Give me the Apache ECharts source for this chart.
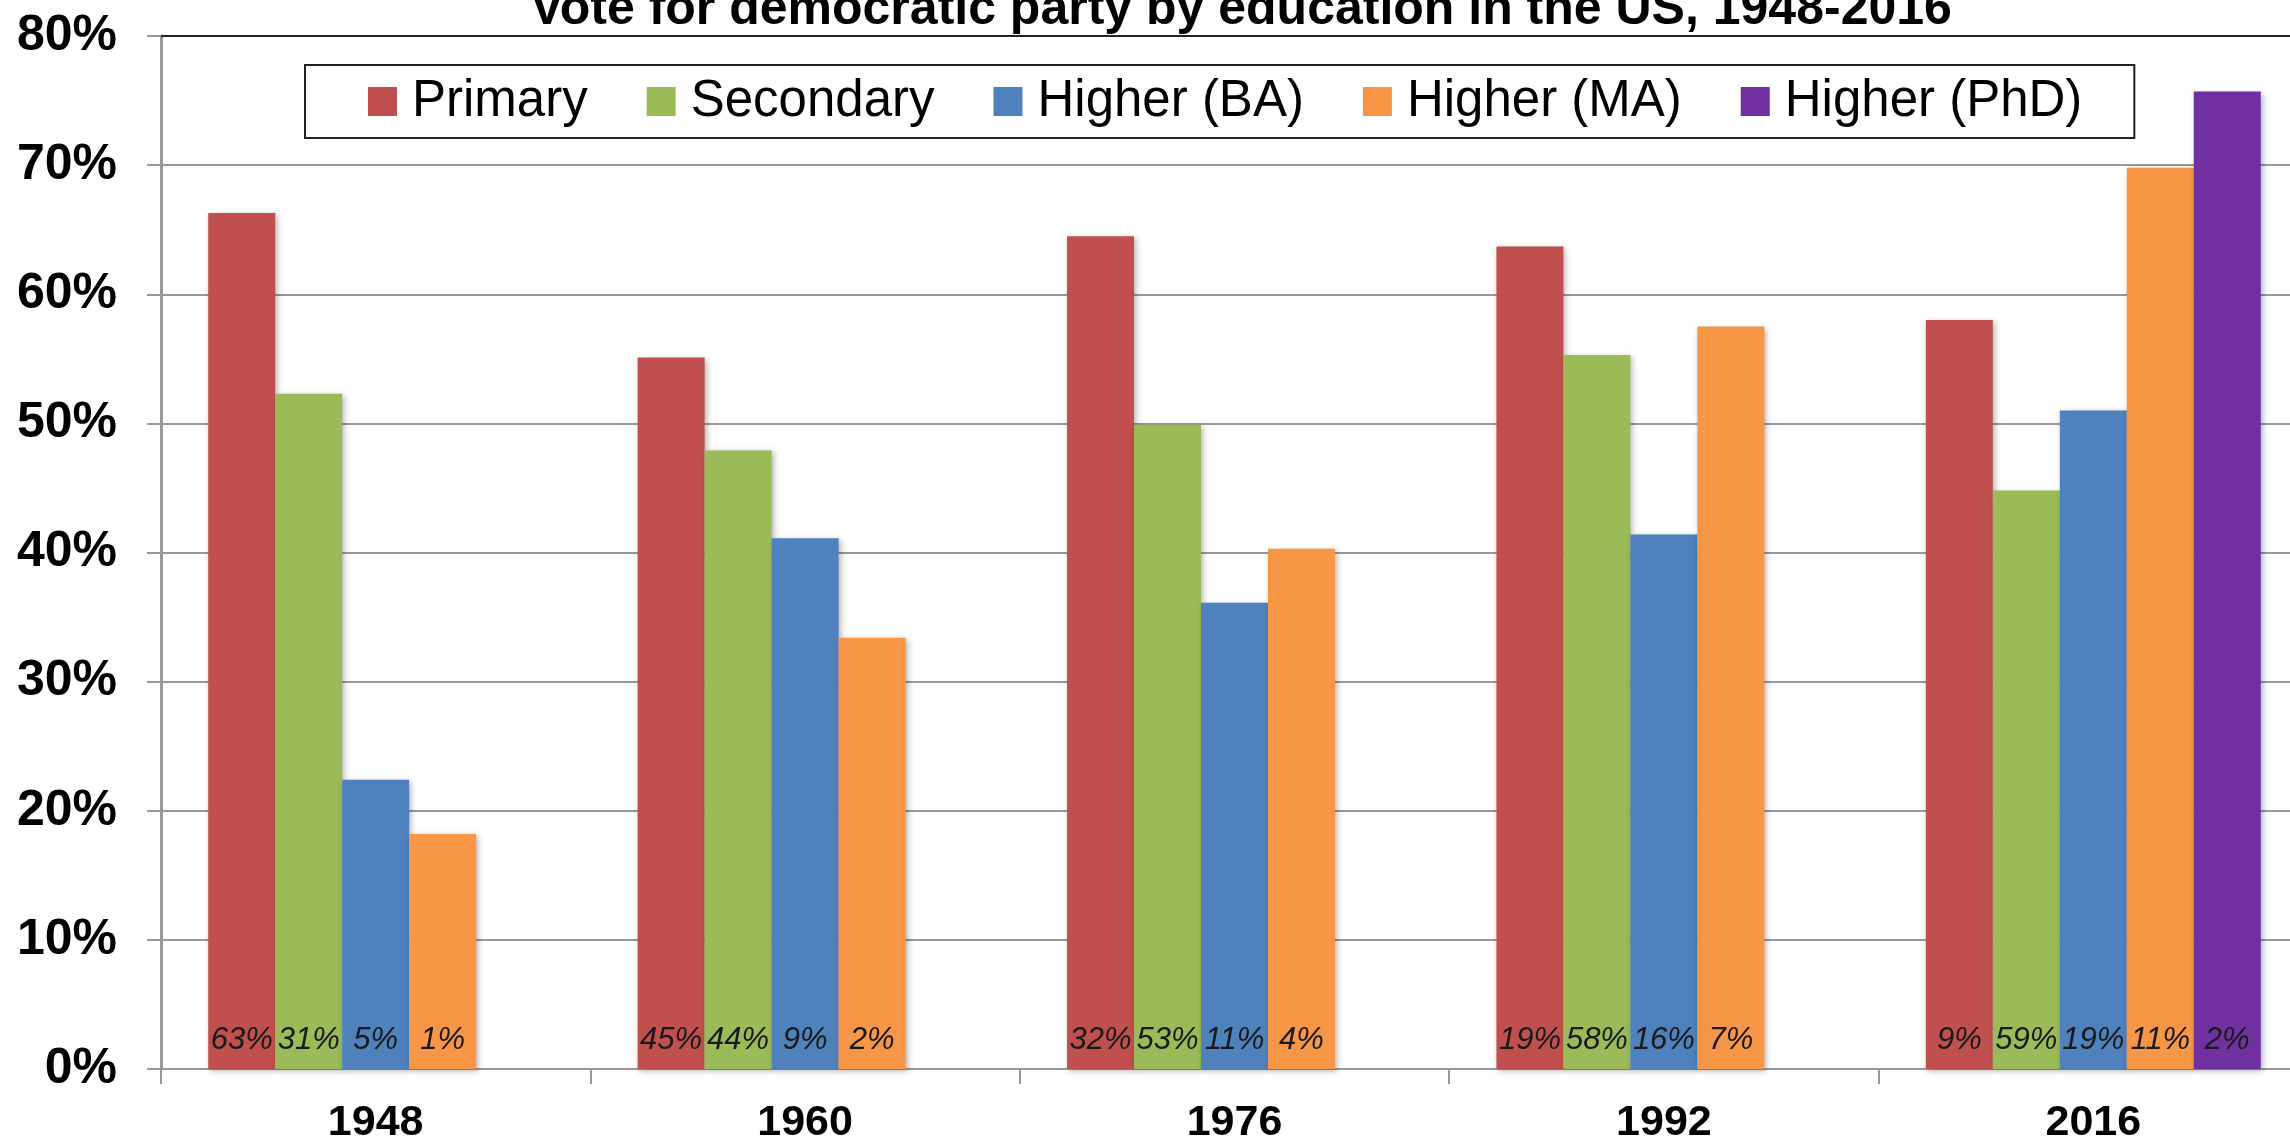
<!DOCTYPE html>
<html>
<head>
<meta charset="utf-8">
<script src="https://cdn.jsdelivr.net/npm/echarts@6/dist/echarts.min.js"></script>
<style>
  html, body { margin: 0; padding: 0; background: #fff; }
  #chart { width: 2290px; height: 1138px; }
</style>
</head>
<body>
<div id="chart"></div>
<script>
// categories
var years = ['1948', '1960', '1976', '1992', '2016'];
var seriesNames = ['Primary', 'Secondary', 'Higher (BA)', 'Higher (MA)', 'Higher (PhD)'];
// vote for democratic party (%)
var primaryVote = [66.3, 55.1, 64.5, 63.7, 58.0];
var secondaryVote = [52.3, 47.9, 49.9, 55.3, 44.8];
var baVote = [22.4, 41.1, 36.1, 41.4, 51.0];
var maVote = [18.2, 33.4, 40.3, 57.5, 69.8];
var phdVote = [null, null, null, null, 75.7];
// share of the electorate (labels in the bars)
var primaryShare = [63, 45, 32, 19, 9];
var secondaryShare = [31, 44, 53, 58, 59];
var baShare = [5, 9, 11, 16, 19];
var maShare = [1, 2, 4, 7, 11];
var phdShare = [null, null, null, null, 2];

var colors = ['#C0504D', '#9BBB59', '#4F81BD', '#F79646', '#7030A0'];
var votes = [primaryVote, secondaryVote, baVote, maVote, phdVote];
var shares = [primaryShare, secondaryShare, baShare, maShare, phdShare];

var series = [];
for (var i = 0; i < seriesNames.length; i++) {
    (function (idx) {
        series.push({
            name: seriesNames[idx],
            type: 'bar',
            data: votes[idx],
            barGap: '0%',
            barCategoryGap: '22%',
            itemStyle: {
                color: colors[idx],
                shadowBlur: 6,
                shadowColor: 'rgba(0,0,0,0.3)',
                shadowOffsetX: 2,
                shadowOffsetY: 2
            },
            label: {
                show: true,
                position: 'insideBottom',
                distance: 13,
                fontFamily: "'Liberation Sans', Arial, sans-serif",
                fontStyle: 'italic',
                fontSize: 31,
                color: '#1a1a1a',
                formatter: function (p) {
                    var v = shares[idx][p.dataIndex];
                    return v == null ? '' : v + '%';
                }
            }
        });
    })(i);
}

var chart = echarts.init(document.getElementById('chart'));
var option = {
    animation: false,
    color: colors,
    title: {
        text: 'Vote for democratic party by education in the US, 1948-2016',
        left: 1236,
        top: -20,
        textAlign: 'center',
        textStyle: {
            fontFamily: "'Liberation Sans', Arial, sans-serif",
            fontWeight: 'bold',
            fontSize: 50,
            color: '#000'
        }
    },
    legend: {
        data: seriesNames,
        left: 305,
        top: 65,
        orient: 'horizontal',
        icon: 'rect',
        itemWidth: 29,
        itemHeight: 29,
        itemGap: 59,
        padding: [11, 52, 11, 63],
        borderColor: '#222',
        borderWidth: 2,
        textStyle: {
            fontFamily: "'Liberation Sans', Arial, sans-serif",
            fontSize: 51,
            color: '#000',
            padding: [0, 0, 0, 10]
        }
    },
    grid: {
        left: 161,
        right: -18,
        top: 36,
        bottom: 69,
        containLabel: false,
        outerBoundsMode: 'none'
    },
    xAxis: [{
        type: 'category',
        data: years,
        axisLine: { lineStyle: { color: '#999', width: 2 } },
        axisTick: { show: true, length: 15, lineStyle: { color: '#999', width: 2 } },
        axisLabel: {
            margin: 33,
            fontFamily: "'Liberation Sans', Arial, sans-serif",
            fontWeight: 'bold',
            fontSize: 43,
            color: '#000'
        }
    }, {
        type: 'category',
        data: years,
        position: 'top',
        axisLine: { lineStyle: { color: '#222', width: 2 } },
        axisTick: { show: false },
        axisLabel: { show: false }
    }],
    yAxis: {
        type: 'value',
        min: 0,
        max: 80,
        interval: 10,
        axisLine: { show: true, lineStyle: { color: '#999', width: 3 } },
        axisTick: { show: true, length: 14, lineStyle: { color: '#999', width: 2 } },
        splitLine: { lineStyle: { color: '#999', width: 2 } },
        axisLabel: {
            formatter: '{value}%',
            margin: 44,
            fontFamily: "'Liberation Sans', Arial, sans-serif",
            fontWeight: 'bold',
            fontSize: 50,
            color: '#000'
        }
    },
    series: series
};
chart.setOption(option);
</script>
</body>
</html>
